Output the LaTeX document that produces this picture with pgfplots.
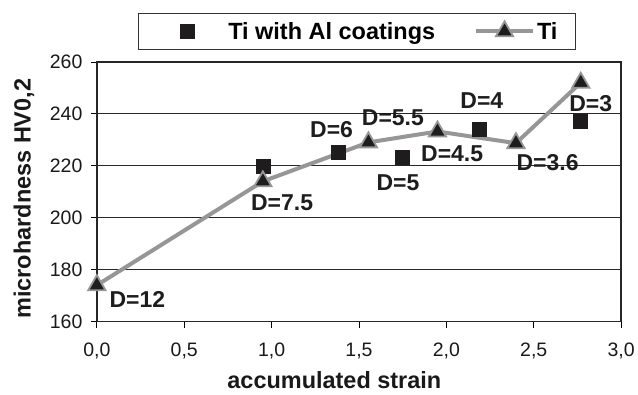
\documentclass[border=0pt]{standalone}
\usepackage{pgfplots}
\pgfplotsset{compat=1.18}
\usepackage{fontspec}
\setmainfont{Liberation Sans}
\definecolor{tigray}{RGB}{150,150,150}
\definecolor{mk}{RGB}{30,28,28}
\pgfplotsset{
  sqlegend/.style={legend image code/.code={\path[draw=none,fill=none,opacity=0] (0pt,-8pt) -- (72pt,8pt); \draw[##1] plot coordinates {(33pt,0pt)};}},
  tilegend/.style={legend image code/.code={\draw[mark repeat=2,mark phase=2,##1] plot coordinates {(0pt,0pt) (28.5pt,0pt) (57pt,0pt)};}},
}
\begin{document}
\begin{tikzpicture}
\begin{axis}[
  width=525pt, height=260pt, scale only axis,
  xmin=0, xmax=3, ymin=160, ymax=260,
  xtick={0,0.5,1,1.5,2,2.5,3},
  ytick={160,180,200,220,240,260},
  /pgf/number format/assume math mode=true,
  ticklabel style={font=\fontsize{19.5}{22}\selectfont, text=black!90},
  xticklabel style={yshift=-12pt, /pgf/number format/.cd, fixed, fixed zerofill, precision=1, use comma},
  yticklabel style={xshift=-5pt},
  tick align=outside, tick pos=left, major tick length=6pt,
  tick style={black, line width=0.8pt},
  ymajorgrids, grid style={black!85, line width=0.8pt},
  axis line style={black!85, line width=1.5pt},
  after end axis/.code={\draw[black!85, line width=2.6pt] (rel axis cs:0,1) -- (rel axis cs:1,1) -- (rel axis cs:1,0);},
  xlabel={\bfseries accumulated strain},
  ylabel={\bfseries microhardness HV0,2},
  label style={font=\bfseries\fontsize{23.5}{26}\selectfont, text=black!90},
  xlabel style={at={(axis description cs:0.453,-0.227)}, anchor=center},
  ylabel style={at={(axis description cs:-0.139,0.473)}, anchor=center},
  legend style={at={(0.496,1.046)}, anchor=south, legend columns=2, draw=black!80, line width=0.8pt,
    font=\bfseries\fontsize{23.5}{26}\selectfont, inner xsep=16pt, inner ysep=7pt,
    /tikz/every even column/.append style={column sep=37pt}},
  legend cell align=left,
  clip=false,
]
\addplot[only marks, mark=square*, mark size=7pt, mark options={fill=mk, draw=mk, line width=0.5pt}, sqlegend]
  coordinates {(0.95,220) (1.38,225.2) (1.749,223.1) (2.187,234.2) (2.766,237)};
\addlegendentry{Ti with Al coatings}
\addplot[color=tigray, line width=4pt, mark=triangle*, mark size=10pt,
  mark options={fill=mk, draw=tigray, line width=1.8pt}, tilegend]
  coordinates {(0,174) (0.95,214) (1.554,229) (1.949,233.2) (2.398,228.7) (2.769,252)};
\addlegendentry{Ti}
\begin{scope}[every node/.style={font=\bfseries\fontsize{23}{25}\selectfont, text=mk, inner sep=0pt}]
\node at (axis cs:0.232,168.5) {D=12};
\node at (axis cs:1.06,205.6) {D=7.5};
\node at (axis cs:1.343,233.8) {D=6};
\node at (axis cs:1.694,238.5) {D=5.5};
\node at (axis cs:1.723,213.3) {D=5};
\node at (axis cs:2.033,224.8) {D=4.5};
\node at (axis cs:2.203,245) {D=4};
\node at (axis cs:2.579,221.3) {D=3.6};
\node at (axis cs:2.826,244.1) {D=3};
\end{scope}
\end{axis}
\path (-97pt,-73pt) rectangle (541pt,322pt);
\end{tikzpicture}
\end{document}
